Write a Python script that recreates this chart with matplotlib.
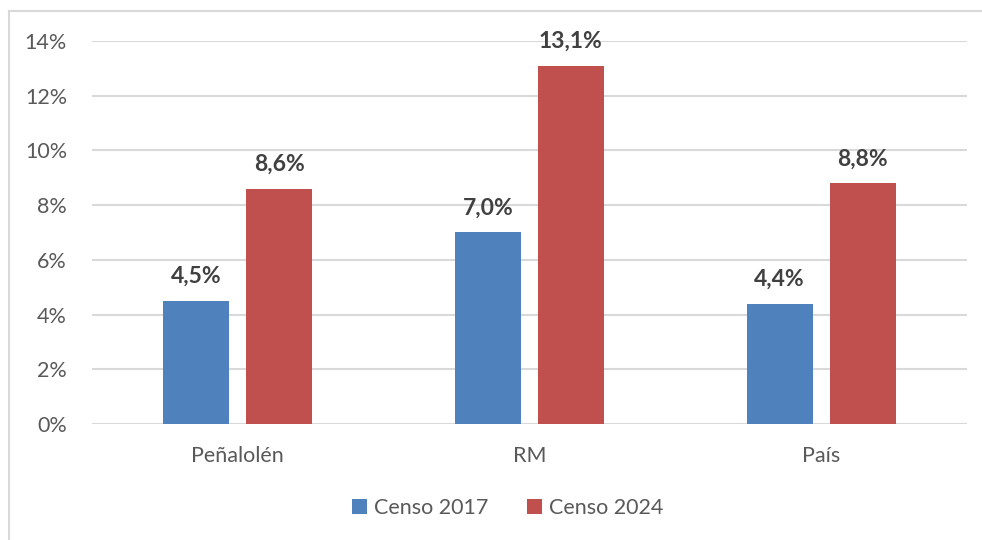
import numpy as np
import matplotlib.pyplot as plt
from matplotlib.lines import Line2D

categories = ["Peñalolén", "RM", "País"]
censo_2017 = [4.5, 7.0, 4.4]
censo_2024 = [8.6, 13.1, 8.8]
series_names = ["Censo 2017", "Censo 2024"]

plt.rcParams['font.family'] = ['Lato', 'DejaVu Sans']

fig = plt.figure(figsize=(9.82, 5.4), dpi=100)
ax = fig.add_axes([0.0937, 0.2148, 0.891, 0.7093])

x = np.arange(len(categories))
width = 0.226
offset = 0.142
b1 = ax.bar(x - offset, censo_2017, width, color="#4F81BD", label=series_names[0], zorder=3)
b2 = ax.bar(x + offset, censo_2024, width, color="#C0504D", label=series_names[1], zorder=3)

# data labels with comma decimal
for bars, vals in [(b1, censo_2017), (b2, censo_2024)]:
    for rect, v in zip(bars, vals):
        ax.annotate(f"{v:.1f}%".replace(".", ","),
                    (rect.get_x() + rect.get_width() / 2, v),
                    xytext=(0, 10), textcoords="offset points",
                    ha="center", va="bottom", fontsize=16.5, fontweight="bold",
                    color="#404040", zorder=4)

ax.set_xlim(-0.5, 2.5)
ax.set_ylim(0, 14)
ax.set_yticks(range(0, 15, 2))
ax.set_yticklabels([f"{t}%" for t in range(0, 15, 2)])
ax.set_xticks(x)
ax.set_xticklabels(categories)
ax.tick_params(axis="both", length=0, labelsize=15.5, labelcolor="#595959")
ax.tick_params(axis="y", pad=18)
ax.tick_params(axis="x", pad=16)
ax.grid(axis="y", color="#D9D9D9", linewidth=1.5, zorder=0)
for s in ax.spines.values():
    s.set_visible(False)

fig.legend(handles=[b1, b2], labels=series_names, loc="center",
           bbox_to_anchor=(0.517, 0.059), ncol=2, frameon=False,
           fontsize=15.5, labelcolor="#595959", handlelength=0.7,
           handleheight=0.7, handletextpad=0.3, columnspacing=1.8)

# outer chart frame (only left and top edges visible)
fig.add_artist(Line2D([0.0092, 0.0092], [0, 0.9796], color="#D9D9D9", lw=1.5))
fig.add_artist(Line2D([0.0092, 1], [0.9796, 0.9796], color="#D9D9D9", lw=1.5))

fig.savefig("out.png", dpi=100)
